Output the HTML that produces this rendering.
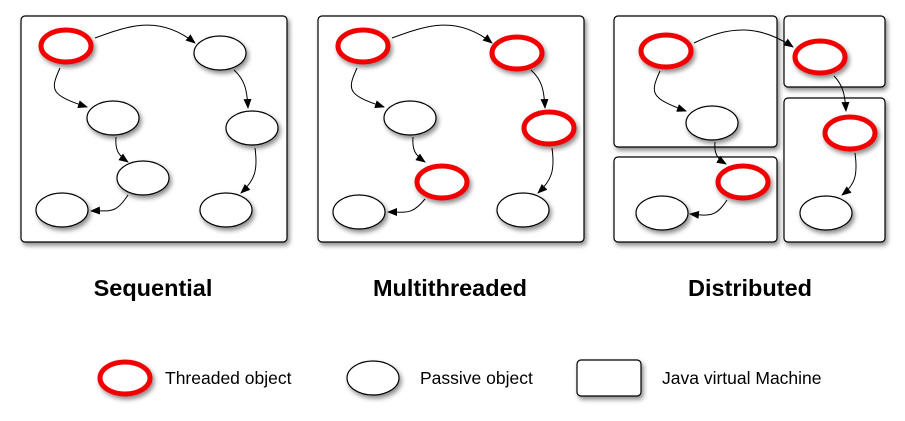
<!DOCTYPE html>
<html><head><meta charset="utf-8"><style>
body{margin:0;background:#fff;}
svg{display:block;font-family:"Liberation Sans",sans-serif;}
</style></head><body>
<svg width="905" height="421" viewBox="0 0 905 421" xmlns="http://www.w3.org/2000/svg">
<defs>
<filter id="sh" x="-20%" y="-20%" width="150%" height="150%"><feDropShadow dx="2" dy="3" stdDeviation="2.5" flood-color="#000" flood-opacity="0.45"/></filter>
<marker id="ar" markerWidth="10" markerHeight="8" refX="9" refY="4" orient="auto" markerUnits="userSpaceOnUse"><path d="M0,0 L10,4 L0,8 z" fill="#000"/></marker>
<g id="p" ><ellipse rx="26" ry="17" fill="#fff" stroke="#000" stroke-width="1.2" filter="url(#sh)"/></g>
<g id="r"><ellipse rx="25" ry="16" fill="#fff" stroke="#f00000" stroke-width="5" filter="url(#sh)"/></g>
</defs>
<g fill="#fff" stroke="#000" stroke-width="1.2" filter="url(#sh)">
<rect x="21" y="16" width="266" height="226" rx="4"/>
<rect x="318" y="16" width="266" height="226" rx="4"/>
<rect x="614" y="16" width="163" height="131" rx="4"/>
<rect x="784" y="16" width="101" height="71" rx="4"/>
<rect x="614" y="157" width="163" height="85" rx="4"/>
<rect x="784" y="98" width="101" height="144" rx="4"/>
<rect x="577" y="360" width="64" height="36" rx="4"/>
</g>
<g fill="none" stroke="#000" stroke-width="1" marker-end="url(#ar)">
<path d="M95,38 C130,25 160,15 195,43"/>
<path d="M60,68 C50,90 50,95 87,107"/>
<path d="M116,137 C115,150 118,155 128,162"/>
<path d="M128,195 C115,215 110,210 91,211"/>
<path d="M234,70 C245,80 247,90 248,108"/>
<path d="M255,148 C258,170 255,180 241,193"/>
<path d="M392,38 C427,25 457,15 492,43"/>
<path d="M357,68 C347,90 347,95 384,107"/>
<path d="M413,137 C412,150 415,155 425,162"/>
<path d="M425,199 C412,215 407,212 388,212"/>
<path d="M531,70 C542,80 544,90 545,108"/>
<path d="M552,148 C555,170 552,180 538,193"/>
<path d="M694,43 C730,25 760,25 793,47"/>
<path d="M660,71 C650,93 650,98 686,111"/>
<path d="M715,142 C714,152 716,158 726,164"/>
<path d="M727,200 C716,217 710,216 690,214"/>
<path d="M834,76 C843,85 845,95 846,111"/>
<path d="M855,153 C858,175 855,185 842,195"/>
</g>
<use href="#r" x="66" y="46"/><use href="#p" x="220" y="53"/><use href="#p" x="113" y="118"/><use href="#p" x="143" y="178"/><use href="#p" x="62" y="210"/><use href="#p" x="252" y="128"/><use href="#p" x="226" y="210"/>
<use href="#r" x="363" y="46"/><use href="#r" x="517" y="53"/><use href="#p" x="410" y="118"/><use href="#r" x="442" y="182"/><use href="#p" x="359" y="212"/><use href="#r" x="549" y="128"/><use href="#p" x="523" y="210"/>
<use href="#r" x="666" y="51"/><use href="#r" x="820" y="57"/><use href="#p" x="712" y="123"/><use href="#r" x="743" y="182"/><use href="#p" x="662" y="213"/><use href="#r" x="850" y="133"/><use href="#p" x="826" y="213"/>
<use href="#r" x="125" y="378"/><use href="#p" x="373" y="378"/>
<g font-weight="bold" font-size="23.5" text-anchor="middle" fill="#000">
<text x="153" y="296">Sequential</text>
<text x="450" y="296">Multithreaded</text>
<text x="750" y="296">Distributed</text>
</g>
<g font-size="17.5" fill="#000">
<text x="165" y="384">Threaded object</text>
<text x="420" y="384">Passive object</text>
<text x="662" y="384">Java virtual Machine</text>
</g>
</svg>
</body></html>
